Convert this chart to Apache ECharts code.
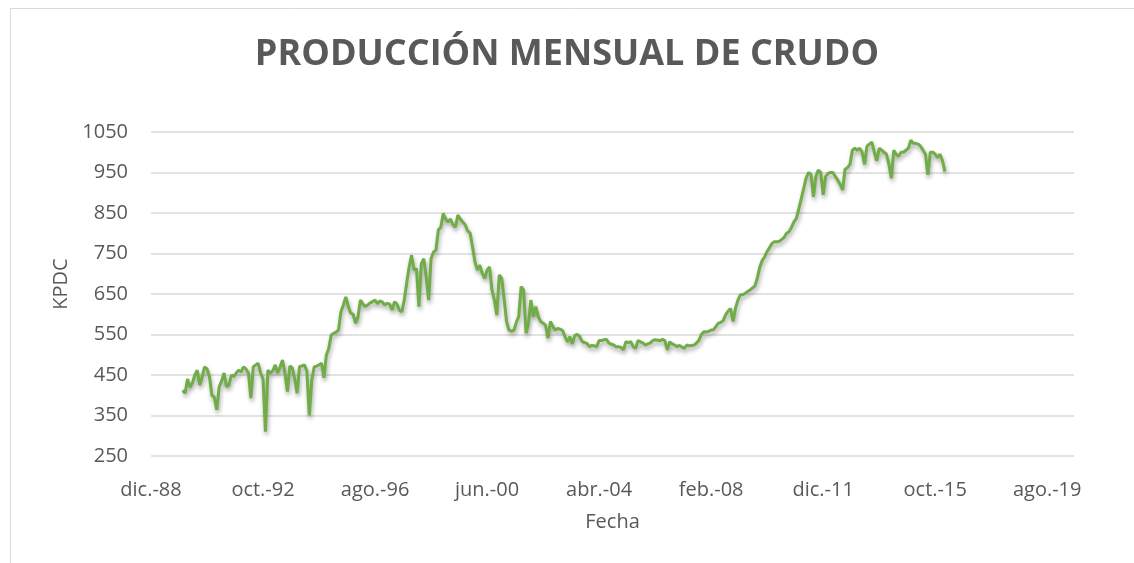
<!DOCTYPE html>
<html>
<head>
<meta charset="utf-8">
<script src="https://cdn.jsdelivr.net/npm/echarts@6/dist/echarts.min.js"></script>
<style>html,body{margin:0;padding:0;background:#fff}#c{width:1134px;height:563px}</style>
</head>
<body>
<div id="c"></div>
<script>
// Month index counted from Dec 1988 (0 = dic.-88); first value is Jan 1990 (index 13)
const startIndex = 13;
const production = [
  412,405,440,420,430,450,462,425,445,470,465,446,
  400,395,364,421,435,455,421,425,450,446,455,462,
  458,470,465,455,393,470,475,479,455,440,310,462,
  455,460,475,455,470,487,455,409,472,468,440,405,
  471,472,475,460,350,437,470,472,475,479,443,499,
  516,549,553,556,561,606,623,643,620,603,600,578,
  593,635,625,619,623,628,631,635,626,633,630,623,
  627,625,611,631,625,610,606,635,677,717,746,709,
  713,619,725,737,692,635,737,754,758,808,815,849,
  835,828,835,821,815,845,835,828,821,806,801,767,
  730,709,721,701,689,709,717,660,635,598,697,689,
  638,582,561,558,560,580,594,668,660,553,578,635,
  594,619,595,582,578,573,541,582,570,561,565,563,
  560,545,532,545,527,548,550,545,533,530,528,520,
  523,522,520,535,535,537,538,529,526,524,520,520,
  518,512,532,530,532,520,516,535,532,529,524,527,
  529,535,537,536,535,538,535,512,532,527,524,520,
  523,519,516,524,522,523,524,529,536,550,557,556,
  558,561,562,570,578,580,585,599,608,614,582,615,
  635,648,648,652,656,660,665,670,690,717,733,742,
  755,765,775,779,779,780,785,790,800,804,815,828,
  837,860,885,910,936,950,945,890,940,956,950,895,
  940,948,950,950,940,931,920,907,958,962,970,1005,
  1010,1005,1010,1000,970,1015,1020,1025,1000,979,1010,1005,
  1000,995,970,936,1005,995,990,1000,1000,1005,1010,1030,
  1022,1022,1020,1015,1005,995,944,1000,1000,995,987,995,
  979,952
];
const xTickLabels = ['dic.-88','oct.-92','ago.-96','jun.-00','abr.-04','feb.-08','dic.-11','oct.-15','ago.-19'];
const xTickStep = 46;
const xMax = 379;
const yMin = 250, yMax = 1050, yStep = 100;

const seriesData = production.map((v, i) => [startIndex + i, v]);

const chart = echarts.init(document.getElementById('c'), null, {renderer: 'canvas'});
const txt = '#595959';
const font = "'Open Sans', sans-serif";
chart.setOption({
  animation: false,
  backgroundColor: '#ffffff',
  graphic: [{
    type: 'rect', shape: {x: 10.5, y: 8.5, width: 1200, height: 600},
    style: {fill: 'none', stroke: '#d9d9d9', lineWidth: 1}, silent: true, z: -10
  }],
  title: {
    text: 'PRODUCCIÓN MENSUAL DE CRUDO',
    left: 'center', top: 32,
    textStyle: {fontFamily: font, fontWeight: 'bold', fontSize: 36, color: txt}
  },
  grid: {left: 151, right: 60, top: 132, bottom: 107, containLabel: false},
  xAxis: {
    type: 'value', min: 0, max: xMax, interval: xTickStep,
    name: 'Fecha', nameLocation: 'middle', nameGap: 56,
    nameTextStyle: {fontFamily: font, fontSize: 20, color: txt},
    axisLine: {show: false}, axisTick: {show: false}, splitLine: {show: false},
    axisLabel: {
      margin: 24, fontFamily: font, fontSize: 20, color: txt, showMaxLabel: false,
      formatter: function (v) {
        const k = Math.round(v / xTickStep);
        return (Math.abs(v - k * xTickStep) < 1e-6 && k < xTickLabels.length) ? xTickLabels[k] : '';
      }
    }
  },
  yAxis: {
    type: 'value', min: yMin, max: yMax, interval: yStep,
    name: 'KPDC', nameLocation: 'middle', nameGap: 80, nameRotate: 90,
    nameTextStyle: {fontFamily: font, fontSize: 20, color: txt, padding: [0, 0, 0, 20]},
    axisLine: {show: false}, axisTick: {show: false},
    axisLabel: {margin: 23, fontFamily: font, fontSize: 20, color: txt, formatter: function (v) { return String(v); }},
    splitLine: {lineStyle: {color: '#d9d9d9', width: 1.5}}
  },
  series: [{
    type: 'line', data: seriesData, showSymbol: false, smooth: false,
    lineStyle: {color: '#70ad47', width: 3, shadowColor: 'rgba(0,0,0,0.35)', shadowBlur: 4, shadowOffsetX: 1, shadowOffsetY: 3},
    itemStyle: {color: '#70ad47'}
  }]
});
</script>
</body>
</html>
